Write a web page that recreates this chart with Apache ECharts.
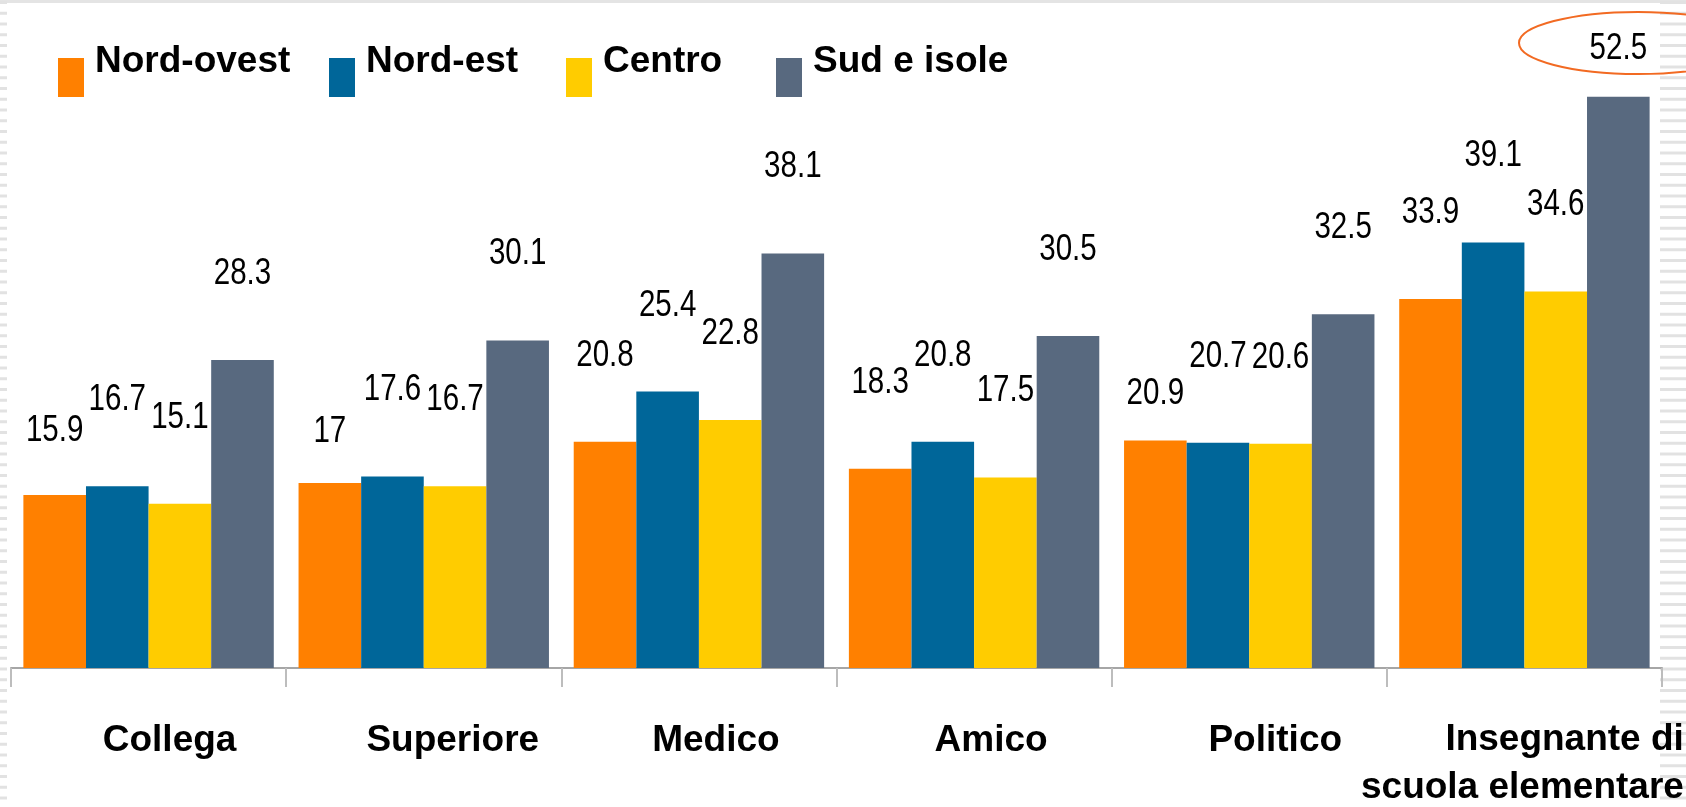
<!DOCTYPE html>
<html>
<head>
<meta charset="utf-8">
<script src="https://cdn.jsdelivr.net/npm/echarts@6/dist/echarts.min.js"></script>
<style>
html,body{margin:0;padding:0;background:#ffffff;}
#chart{width:1686px;height:807px;}
</style>
</head>
<body>
<div id="chart"></div>
<script>
// ---- data ----
const categories = ['Collega', 'Superiore', 'Medico', 'Amico', 'Politico', 'Insegnante di\nscuola elementare'];
const seriesNames = ['Nord-ovest', 'Nord-est', 'Centro', 'Sud e isole'];
const nordOvest = [15.9, 17, 20.8, 18.3, 20.9, 33.9];
const nordEst   = [16.7, 17.6, 25.4, 20.8, 20.7, 39.1];
const centro    = [15.1, 16.7, 22.8, 17.5, 20.6, 34.6];
const sudIsole  = [28.3, 30.1, 38.1, 30.5, 32.5, 52.5];
const seriesValues = [nordOvest, nordEst, centro, sudIsole];

// ---- style / layout ----
const colors = ['#FF8000', '#006699', '#FFCC00', '#58697F'];
const valueFont = "'Liberation Sans', Arial, sans-serif";
const boldFont = "'Liberation Sans', Arial, sans-serif";
const valueFontSize = 36;
const valueSqueeze = 0.82;              // narrow look of the value labels
const defaultLift = 86;                 // label centre above bar top (px)
const liftOverrides = { '0-0': 64, '0-1': 51, '0-4': 46, '3-5': 48 };
const catShift = [21, 29, 17, 17, 26, -2]; // horizontal label shifts (px)
const legendLeft = [58, 329, 566, 776];
// legend swatch: 26x39 block drawn low inside a 26x70 icon box
const legendIcon = 'path://M0,0h0.01v0.01h-0.01zM0,31h26v39h-26z';

function labelDistance(s, i) {
  const key = s + '-' + i;
  const lift = liftOverrides[key] !== undefined ? liftOverrides[key] : defaultLift;
  return lift - valueFontSize / 2;
}

const xData = categories.map(function (c, i) {
  const sh = catShift[i];
  const pad = sh >= 0 ? [0, 0, 0, 2 * sh] : [0, -2 * sh, 0, 0];
  return { value: c, textStyle: { padding: pad } };
});

const series = seriesValues.map(function (vals, s) {
  return {
    name: seriesNames[s],
    type: 'bar',
    barGap: '0%',
    barCategoryGap: '9%',
    itemStyle: { color: colors[s] },
    emphasis: { disabled: true },
    data: vals.map(function (v, i) {
      return {
        value: v,
        label: { distance: labelDistance(s, i) }
      };
    }),
    label: {
      show: true,
      position: 'top',
      color: '#000',
      fontFamily: valueFont,
      fontSize: valueFontSize
    }
  };
});

const legends = seriesNames.map(function (n, s) {
  return {
    data: [n],
    left: legendLeft[s],
    top: 27,
    padding: 0,
    icon: legendIcon,
    itemWidth: 26,
    itemHeight: 70,
    selectedMode: false,
    textStyle: {
      fontFamily: boldFont,
      fontWeight: 'bold',
      fontSize: 37,
      color: '#000',
      padding: [0, 0, 0, 6]
    }
  };
});

// decorative slide edge stripes
const deco = [];
deco.push({ type: 'rect', shape: { x: 0, y: 0, width: 1686, height: 3 }, style: { fill: '#e4e4e4' }, silent: true, z: -10 });
for (let y = 1; y < 807; y += 10.75) {
  deco.push({ type: 'rect', shape: { x: 0, y: y, width: 7, height: 3 }, style: { fill: '#e2e2e2' }, silent: true, z: -10 });
  deco.push({ type: 'rect', shape: { x: 1660, y: y, width: 26, height: 3 }, style: { fill: '#e2e2e2' }, silent: true, z: -10 });
}
deco.push({
  type: 'ellipse',
  shape: { cx: 1638, cy: 43, rx: 119, ry: 31 },
  style: { fill: 'none', stroke: '#F26A22', lineWidth: 2 },
  silent: true,
  z: 100
});

const chart = echarts.init(document.getElementById('chart'), null, { renderer: 'canvas' });
chart.setOption({
  backgroundColor: '#ffffff',
  animation: false,
  color: colors,
  legend: legends,
  grid: {
    left: 11,
    right: 24,
    top: 15.1,
    bottom: 139,
    containLabel: false,
    outerBoundsMode: 'none'
  },
  xAxis: {
    type: 'category',
    data: xData,
    axisLine: { show: true, lineStyle: { color: '#a6a6a6', width: 2 } },
    axisTick: { show: true, length: 19, lineStyle: { color: '#bdbdbd', width: 2 } },
    axisLabel: {
      interval: 0,
      margin: 48,
      color: '#000',
      fontFamily: boldFont,
      fontWeight: 'bold',
      fontSize: 37,
      lineHeight: 50,
      hideOverlap: false,
      formatter: function (v) {
        if (v.indexOf('\n') >= 0) {
          return v.split('\n').map(function (t) { return '{r|' + t + '}'; }).join('\n');
        }
        return v;
      },
      rich: {
        r: {
          align: 'right',
          fontFamily: boldFont,
          fontWeight: 'bold',
          fontSize: 37,
          lineHeight: 48,
          color: '#000'
        }
      }
    },
    splitLine: { show: false }
  },
  yAxis: {
    type: 'value',
    min: 0,
    max: 60,
    show: false,
    splitLine: { show: false }
  },
  graphic: deco,
  series: series
});

// give the value labels the narrow look of the original
function squeezeLabels() {
  try {
    const model = chart.getModel();
    model.eachSeries(function (sm) {
      const data = sm.getData();
      data.each(function (idx) {
        const el = data.getItemGraphicEl(idx);
        const t = el && el.getTextContent ? el.getTextContent() : null;
        if (t) {
          t.scaleX = valueSqueeze;
          t.markRedraw();
        }
      });
    });
    chart.getZr().refreshImmediately();
  } catch (e) {}
}
squeezeLabels();
</script>
</body>
</html>
